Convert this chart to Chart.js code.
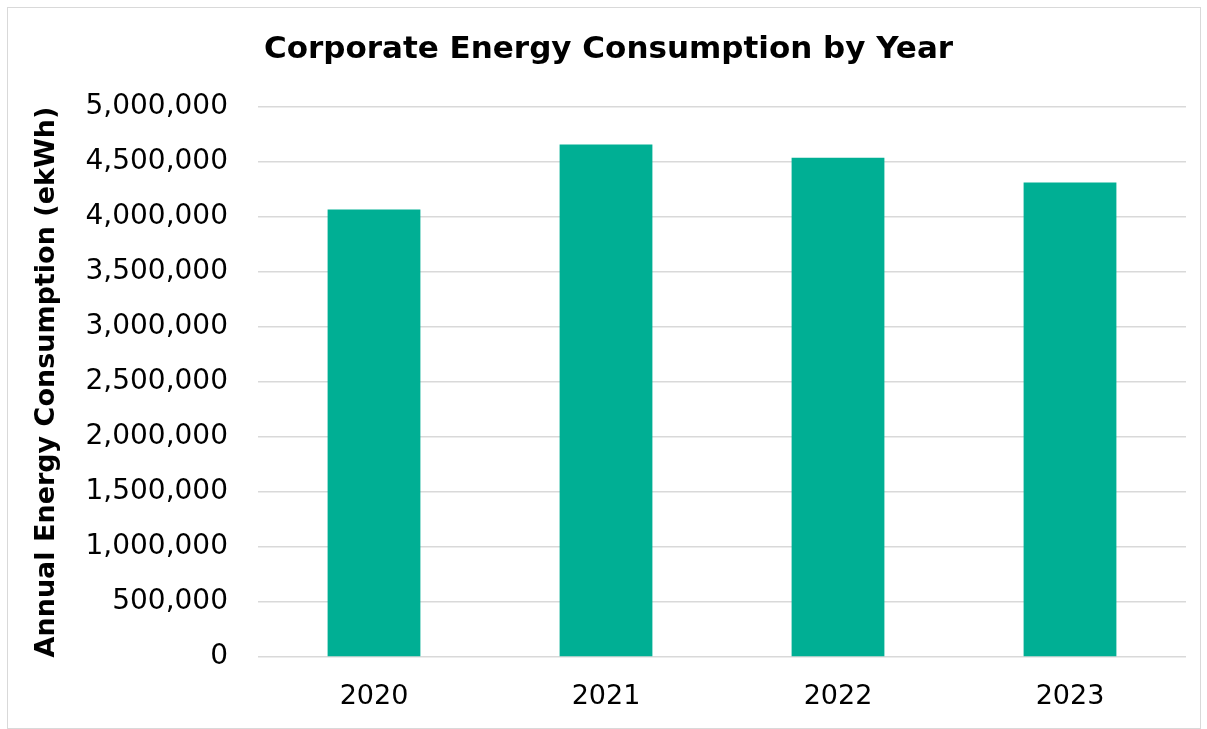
<!DOCTYPE html>
<html>
<head>
<meta charset="utf-8">
<script src="https://cdn.jsdelivr.net/npm/chart.js@4"></script>
<style>
  html, body { margin: 0; padding: 0; background: #fff; }
  #wrap { position: absolute; left: 7px; top: 7px; width: 1192px; height: 720px; border: 1px solid #d9d9d9; }
  #chart { position: absolute; left: -8px; top: -8px; }
</style>
</head>
<body>
<div id="wrap"><canvas id="chart" width="1207" height="729"></canvas></div>
<script>
// data
var years = ['2020', '2021', '2022', '2023'];
var consumption = [4070000, 4660000, 4540000, 4315000];

var ctx = document.getElementById('chart').getContext('2d');

var chart = new Chart(ctx, {
    type: 'bar',
    data: {
        labels: years,
        datasets: [{
            label: 'Annual Energy Consumption (ekWh)',
            data: consumption,
            backgroundColor: '#00AF94',
            barPercentage: 0.4,
            categoryPercentage: 1
        }]
    },
    options: {
        responsive: false,
        animation: false,
        layout: { padding: { left: 31, right: 21, top: 31, bottom: 14 } },
        plugins: {
            legend: { display: false },
            tooltip: { enabled: false },
            title: {
                display: true,
                text: 'Corporate Energy Consumption by Year',
                color: '#000',
                font: { family: 'DejaVu Sans', size: 31, weight: 'bold' },
                padding: { top: 0, bottom: 39 }
            }
        },
        scales: {
            x: {
                afterFit: function (scale) { scale.height = 58; },
                grid: { display: false, drawTicks: false },
                border: { display: false },
                ticks: {
                    color: '#000',
                    font: { family: 'DejaVu Sans', size: 27 },
                    padding: 24
                }
            },
            y: {
                min: 0,
                max: 5000000,
                afterFit: function (scale) { scale.width = 227; },
                grid: { color: '#d9d9d9', lineWidth: 1.5, drawTicks: false },
                border: { display: false },
                ticks: {
                    stepSize: 500000,
                    color: '#000',
                    padding: 30,
                    font: { family: 'DejaVu Sans', size: 28 },
                    callback: function (v) { return v.toLocaleString('en-US'); }
                },
                title: {
                    display: true,
                    text: 'Annual Energy Consumption (ekWh)',
                    color: '#000',
                    font: { family: 'DejaVu Sans', size: 27, weight: 'bold' },
                    padding: 0
                }
            }
        }
    }
});
</script>
</body>
</html>
